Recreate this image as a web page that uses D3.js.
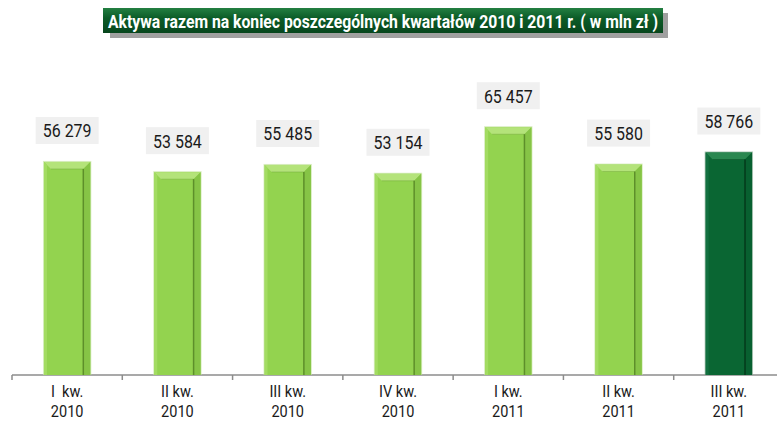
<!DOCTYPE html>
<html lang="pl">
<head>
<meta charset="UTF-8">
<title>Aktywa razem</title>
<script src="https://cdn.jsdelivr.net/npm/d3@7"></script>
<style>
  body { margin: 0; background: #fff; }
  svg { display: block; }
  .lbl { font-family: Roboto, "Liberation Sans", sans-serif; font-size: 19px; font-weight: 400; fill: #1a1a1a; text-anchor: middle; }
  .cat { font-family: Roboto, "Liberation Sans", sans-serif; font-size: 16.5px; font-weight: 400; fill: #1a1a1a; text-anchor: middle; }
  .title { font-family: Roboto, "Liberation Sans", sans-serif; font-size: 19px; font-weight: bold; fill: #fff; }
</style>
</head>
<body>
<svg width="777" height="422"></svg>
<script>
// data
const quarters = ["I  kw.", "II kw.", "III kw.", "IV kw.", "I kw.", "II kw.", "III kw."];
const years = ["2010", "2010", "2010", "2010", "2011", "2011", "2011"];
const values = [56279, 53584, 55485, 53154, 65457, 55580, 58766];
const titleText = "Aktywa razem na  koniec poszczególnych kwartałów 2010 i 2011 r. ( w mln zł )";

const svg = d3.select("svg");
const ids = quarters.map((q, i) => i);

const x = d3.scaleBand().domain(ids).range([12, 784]).paddingInner(0.58).paddingOuter(0.29);
const y = d3.scaleLinear().domain([0, 70000]).range([375, 110]);
const fmt = v => d3.format(",")(v).replace(/,/g, " ");

// gradients
const defs = svg.append("defs");
const tg = defs.append("linearGradient").attr("id", "titleGrad").attr("x1", 0).attr("y1", 0).attr("x2", 0).attr("y2", 1);
tg.append("stop").attr("offset", "0%").attr("stop-color", "#237f42");
tg.append("stop").attr("offset", "40%").attr("stop-color", "#0c5c28");
tg.append("stop").attr("offset", "100%").attr("stop-color", "#07461d");

// title box
svg.append("rect").attr("x", 110).attr("y", 13).attr("width", 558).attr("height", 25).attr("fill", "#a0a0a0");
svg.append("rect").attr("x", 103).attr("y", 8).attr("width", 560).attr("height", 25).attr("fill", "url(#titleGrad)");
svg.append("text").attr("class", "title").attr("x", 383).attr("y", 27.5).attr("text-anchor", "middle")
  .attr("textLength", 550).attr("lengthAdjust", "spacingAndGlyphs").text(titleText);

// axis
const axis = svg.append("g").attr("transform", "translate(0,375)");
axis.append("line").attr("x1", 12).attr("x2", 777).attr("stroke", "#8c8c8c").attr("stroke-width", 1.5);
const bounds = ids.map(i => x(i) - x.step() * 0.29);
axis.selectAll(".tk").data(bounds).join("line")
  .attr("x1", d => d).attr("x2", d => d).attr("y1", 0).attr("y2", 5)
  .attr("stroke", "#8c8c8c").attr("stroke-width", 1.5);

// bars
const pal = [
  { main: "#93d34f", top: "#b4e37a", left: "#a3dc62", right: "#86c446", line: "#5d8f2a", edge: "#c9e6a6" },
  { main: "#0a6633", top: "#2a8750", left: "#127040", right: "#086030", line: "#043a1b", edge: "#7fa88e" }
];
const b = 7;
const bars = svg.append("g").selectAll("g").data(values).join("g");
bars.each(function(v, i) {
  const g = d3.select(this);
  const c = pal[i === values.length - 1 ? 1 : 0];
  const x0 = x(i), x1 = x(i) + x.bandwidth(), y0 = y(v), y1 = y(0);
  g.append("rect").attr("x", x0 - 1).attr("y", y0 - 1).attr("width", x1 - x0 + 2).attr("height", y1 - y0 + 1)
    .attr("fill", c.edge).attr("opacity", 0.7);
  g.append("rect").attr("x", x0).attr("y", y0).attr("width", x1 - x0).attr("height", y1 - y0).attr("fill", c.main);
  g.append("polygon").attr("points", [[x0, y0], [x1, y0], [x1 - b, y0 + b], [x0 + b, y0 + b]].join(" ")).attr("fill", c.top);
  g.append("polygon").attr("points", [[x0, y0], [x0 + 3, y0 + 3], [x0 + 3, y1], [x0, y1]].join(" ")).attr("fill", c.left);
  g.append("polygon").attr("points", [[x1, y0], [x1 - b, y0 + b], [x1 - b, y1], [x1, y1]].join(" ")).attr("fill", c.right);
  g.append("line").attr("x1", x1 - b).attr("x2", x1 - b).attr("y1", y0 + b).attr("y2", y1).attr("stroke", c.line).attr("stroke-width", 1.5);
  g.append("line").attr("x1", x0 + b).attr("x2", x1 - b).attr("y1", y0 + b).attr("y2", y0 + b).attr("stroke", c.line).attr("stroke-width", 0.8).attr("opacity", 0.4);
});

// value labels
const labels = svg.append("g").selectAll("g").data(values).join("g")
  .attr("transform", (v, i) => `translate(${x(i) + x.bandwidth() / 2},${y(v) - 18})`);
labels.append("rect").attr("x", -31.5).attr("y", -27).attr("width", 63).attr("height", 27).attr("fill", "#f0f0f0");
labels.append("text").attr("class", "lbl").attr("y", -6.5).attr("transform", "scale(0.84,1)").text(fmt);

// category labels
const cats = svg.append("g").selectAll("text").data(ids).join("text")
  .attr("class", "cat").attr("transform", i => `translate(${x(i) + x.bandwidth() / 2},397) scale(0.88,1)`);
cats.append("tspan").attr("x", 0).attr("xml:space", "preserve").text(i => quarters[i]);
cats.append("tspan").attr("x", 0).attr("dy", 20).text(i => years[i]);
</script>
</body>
</html>
